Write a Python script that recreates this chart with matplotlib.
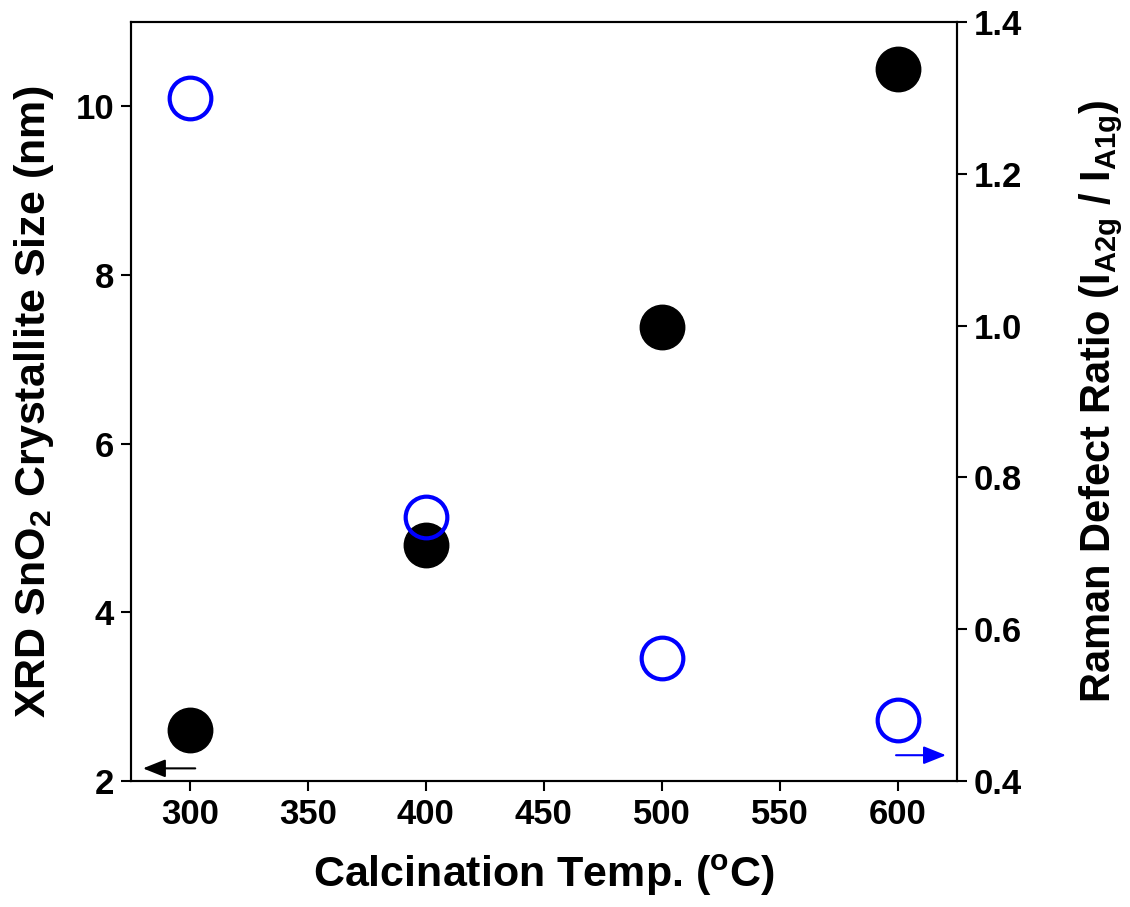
import matplotlib
matplotlib.use("Agg")
import matplotlib.pyplot as plt

temps = [300, 400, 500, 600]
xrd_size = [2.60, 4.80, 7.38, 10.44]
raman_ratio = [1.300, 0.748, 0.562, 0.480]

plt.rcParams['font.family'] = ['Liberation Sans', 'DejaVu Sans']
plt.rcParams['font.weight'] = 'bold'
plt.rcParams['mathtext.fontset'] = 'custom'
plt.rcParams['mathtext.rm'] = 'Liberation Sans:bold'
plt.rcParams['mathtext.bf'] = 'Liberation Sans:bold'
plt.rcParams['mathtext.it'] = 'Liberation Sans:bold'

fig = plt.figure(figsize=(11.3, 9.07), dpi=100)
ax = fig.add_axes([0.1157, 0.1389, 0.8469 - 0.1157, 0.9757 - 0.1389])
ax2 = ax.twinx()

ax.plot(temps, xrd_size, 'o', color='black', markersize=32, linestyle='none', zorder=3)
ax2.plot(temps, raman_ratio, 'o', markerfacecolor='none', markeredgecolor='#0000ff',
         markeredgewidth=3, markersize=30, linestyle='none', zorder=3)

ax.set_xlim(275, 625)
ax.set_ylim(2, 11)
ax2.set_ylim(0.4, 1.4)
ax.set_xticks([300, 350, 400, 450, 500, 550, 600])
ax.set_yticks([2, 4, 6, 8, 10])
ax2.set_yticks([0.4, 0.6, 0.8, 1.0, 1.2, 1.4])
ax2.set_yticklabels(['0.4', '0.6', '0.8', '1.0', '1.2', '1.4'])

for a in (ax, ax2):
    for s in a.spines.values():
        s.set_linewidth(1.5)
    a.tick_params(direction='out', length=7, width=1.5, labelsize=25, pad=5)

ax.set_xlabel('Calcination Temp. ($\\mathregular{^o}$C)', fontsize=31, fontweight='bold', labelpad=16)
ax.set_ylabel('XRD SnO$_\\mathregular{2}$ Crystallite Size (nm)', fontsize=31, fontweight='bold', labelpad=14)
ax2.set_ylabel('Raman Defect Ratio (I$_\\mathregular{A2g}$ / I$_\\mathregular{A1g}$)', fontsize=30,
               fontweight='bold', labelpad=40)

ax.annotate('', xy=(279, 2.15), xytext=(303.5, 2.15),
            arrowprops=dict(arrowstyle='-|>,head_length=0.55,head_width=0.22', color='black', lw=1.5, mutation_scale=25))
ax2.annotate('', xy=(621.5, 0.434), xytext=(598, 0.434),
             arrowprops=dict(arrowstyle='-|>,head_length=0.55,head_width=0.22', color='#0000ff', lw=1.5, mutation_scale=25))

fig.savefig('out.png', dpi=100)
